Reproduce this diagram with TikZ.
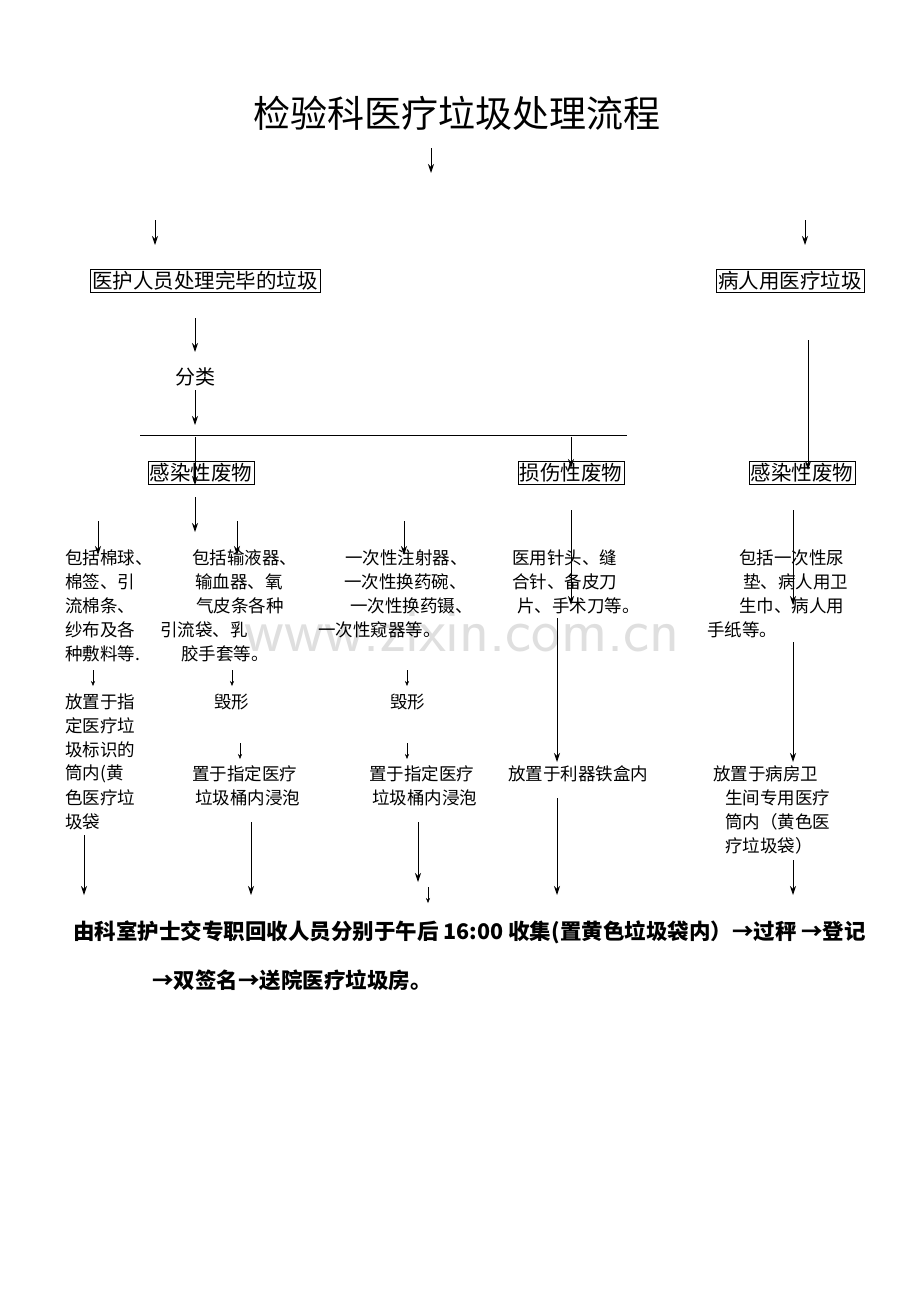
\documentclass[tikz,border=0pt]{standalone}
\usepackage{fontspec}
\setmainfont{Noto Sans CJK SC}
\usetikzlibrary{arrows.meta}
\begin{document}
\begin{tikzpicture}[x=1pt,y=-1pt,>={Stealth[length=9pt,width=6pt]},
  txt/.style={anchor=west,inner sep=0pt,font=\fontsize{17.5}{19}\selectfont},
  box/.style={draw,inner sep=2pt,font=\fontsize{20.5}{22}\selectfont},
  arr/.style={->,line width=0.9pt}]
\useasboundingbox (0,0) rectangle (920,1302);
\node[font=\fontsize{37}{40}\selectfont] (title) at (457,113) {检验科医疗垃圾处理流程};
\node[gray!25,font=\sffamily\fontsize{62}{64}\selectfont] (wm) at (462,632) {www.zixin.com.cn};
% boxes
\node[box] (staff) at (205,281) {医护人员处理完毕的垃圾};
\node[box] (patient) at (790,281) {病人用医疗垃圾};
\node[font=\fontsize{20}{22}\selectfont] (sort) at (195,377) {分类};
\node[box] (inf1) at (201,473) {感染性废物};
\node[box] (hurt) at (571,473) {损伤性废物};
\node[box] (inf2) at (802,473) {感染性废物};
\draw[thick] (140,435) -- (627,435);
% text columns
\foreach \x/\y/\t [count=\i] in {65/558/包括棉球、,65/582/棉签、引,65/606/流棉条、,65/630/纱布及各,65/654/种敷料等.,
  192/558/包括输液器、,195/582/输血器、氧,196/606/气皮条各种,160/630/引流袋、乳,181/654/胶手套等。,
  345/558/一次性注射器、,344/582/一次性换药碗、,350/606/一次性换药镊、,318/630/一次性窥器等。,
  512/558/医用针头、缝,512/582/合针、备皮刀,517/606/片、手术刀等。,
  739/558/包括一次性尿,743/582/垫、病人用卫,739/606/生巾、病人用,707/630/手纸等。,
  65/702/放置于指,65/726/定医疗垃,65/750/圾标识的,65/774/筒内(黄,65/798/色医疗垃,65/822/圾袋,
  214/702/毁形,390/702/毁形,
  192/774/置于指定医疗,195/798/垃圾桶内浸泡,369/774/置于指定医疗,372/798/垃圾桶内浸泡,
  508/774/放置于利器铁盒内,
  713/774/放置于病房卫,725/798/生间专用医疗,725/822/筒内（黄色医,725/846/疗垃圾袋）}
  \node[txt] (t\i) at (\x,\y) {\t};
\node[txt,font=\bfseries\fontsize{21.5}{23}\selectfont] (final1) at (73,932) {由科室护士交专职回收人员分别于午后 16:00 收集(置黄色垃圾袋内）→过秤 →登记};
\node[txt,font=\bfseries\fontsize{21.5}{23}\selectfont] (final2) at (152,980) {→双签名→送院医疗垃圾房。};
% arrows
\foreach \x/\a/\b in {431/148/173,155/220/245,805/220/245,195/318/352,195/390/425,
  195/437/485,571/437/468,808/340/470,195/497/532,98/521/555,237/521/555,404/521/555,
  571/510/605,793/510/605,557/618/762,793/642/762,84/835/895,251/822/895,418/822/882,557/798/895,793/860/895}
  \draw[arr] (\x,\a) -- (\x,\b);
% small arrows
\foreach \x/\a/\b in {93/670/686,232/670/686,407/670/686,240/743/759,407/743/759,428/887/903}
  \draw[->,>={Stealth[length=5pt,width=4pt]}] (\x,\a) -- (\x,\b);
\end{tikzpicture}
\end{document}
